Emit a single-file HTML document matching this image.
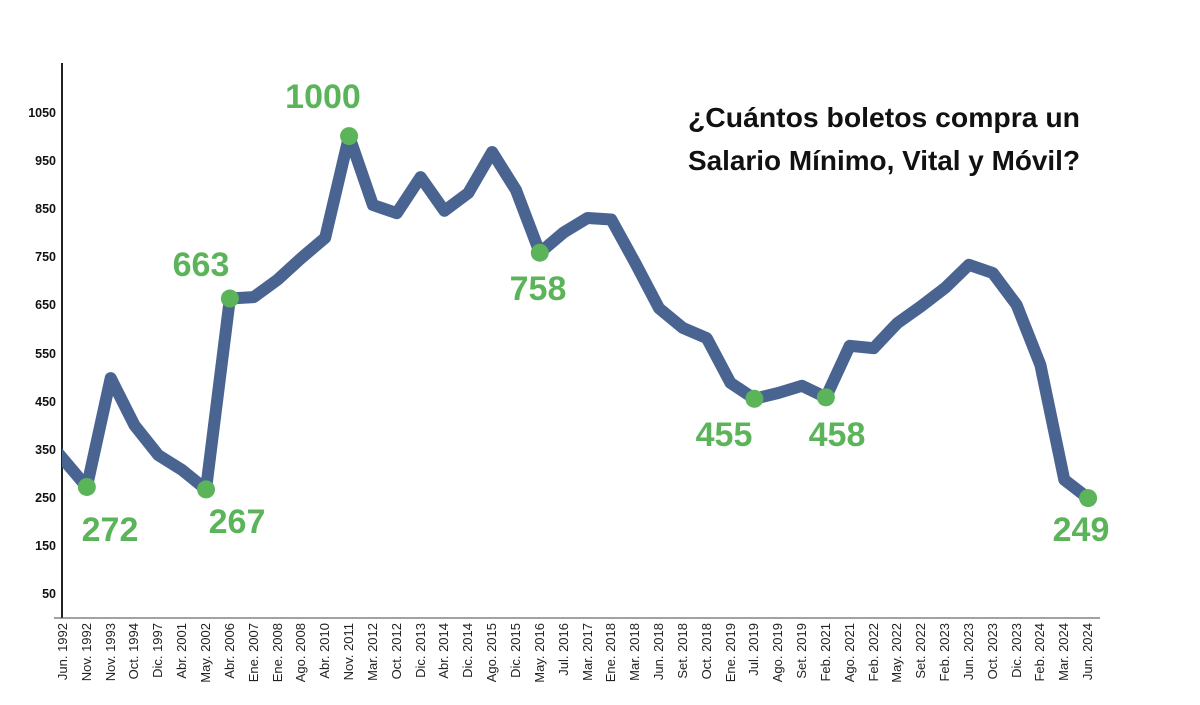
<!DOCTYPE html>
<html><head><meta charset="utf-8"><style>
html,body{margin:0;padding:0;background:#fff;}
svg{display:block;font-family:"Liberation Sans",sans-serif;}
</style></head><body>
<svg id="s" width="1200" height="705" viewBox="0 0 1200 705">
<line x1="62" y1="63" x2="62" y2="618" stroke="#222" stroke-width="2"/>
<line x1="54" y1="618" x2="1100" y2="618" stroke="#444" stroke-width="1"/>
<g font-size="12.5" font-weight="bold" text-anchor="end" fill="#111">
<text x="56" y="117">1050</text><text x="56" y="165">950</text><text x="56" y="213">850</text>
<text x="56" y="261">750</text><text x="56" y="309">650</text><text x="56" y="358">550</text>
<text x="56" y="406">450</text><text x="56" y="454">350</text><text x="56" y="502">250</text>
<text x="56" y="550">150</text><text x="56" y="598">50</text>
</g>
<clipPath id="c"><rect x="62" y="0" width="1140" height="705"/></clipPath>
<polyline id="ln" clip-path="url(#c)" fill="none" stroke="#4a6491" stroke-width="12" stroke-linejoin="round" stroke-linecap="round" points=""/>
<g id="dots" fill="#5cb45a"></g>
<g font-size="34" font-weight="bold" fill="#5cb45a" text-anchor="middle">
<text x="110" y="541">272</text><text x="237" y="533">267</text><text x="201" y="276">663</text>
<text x="323" y="108">1000</text><text x="538" y="300">758</text><text x="724" y="446">455</text>
<text x="837" y="446">458</text><text x="1081" y="541">249</text>
</g>
<g font-size="28" font-weight="bold" fill="#111" text-anchor="middle">
<text x="884" y="127" textLength="392" lengthAdjust="spacingAndGlyphs">¿Cuántos boletos compra un</text>
<text x="884" y="170" textLength="392" lengthAdjust="spacingAndGlyphs">Salario Mínimo, Vital y Móvil?</text>
</g>
<g font-size="13" fill="#222" text-anchor="end">
<text transform="translate(67,623) rotate(-90)">Jun. 1992</text>
<text transform="translate(91,623) rotate(-90)">Nov. 1992</text>
<text transform="translate(115,623) rotate(-90)">Nov. 1993</text>
<text transform="translate(138,623) rotate(-90)">Oct. 1994</text>
<text transform="translate(162,623) rotate(-90)">Dic. 1997</text>
<text transform="translate(186,623) rotate(-90)">Abr. 2001</text>
<text transform="translate(210,623) rotate(-90)">May. 2002</text>
<text transform="translate(234,623) rotate(-90)">Abr. 2006</text>
<text transform="translate(258,623) rotate(-90)">Ene. 2007</text>
<text transform="translate(282,623) rotate(-90)">Ene. 2008</text>
<text transform="translate(305,623) rotate(-90)">Ago. 2008</text>
<text transform="translate(329,623) rotate(-90)">Abr. 2010</text>
<text transform="translate(353,623) rotate(-90)">Nov. 2011</text>
<text transform="translate(377,623) rotate(-90)">Mar. 2012</text>
<text transform="translate(401,623) rotate(-90)">Oct. 2012</text>
<text transform="translate(425,623) rotate(-90)">Dic. 2013</text>
<text transform="translate(448,623) rotate(-90)">Abr. 2014</text>
<text transform="translate(472,623) rotate(-90)">Dic. 2014</text>
<text transform="translate(496,623) rotate(-90)">Ago. 2015</text>
<text transform="translate(520,623) rotate(-90)">Dic. 2015</text>
<text transform="translate(544,623) rotate(-90)">May. 2016</text>
<text transform="translate(568,623) rotate(-90)">Jul. 2016</text>
<text transform="translate(592,623) rotate(-90)">Mar. 2017</text>
<text transform="translate(615,623) rotate(-90)">Ene. 2018</text>
<text transform="translate(639,623) rotate(-90)">Mar. 2018</text>
<text transform="translate(663,623) rotate(-90)">Jun. 2018</text>
<text transform="translate(687,623) rotate(-90)">Set. 2018</text>
<text transform="translate(711,623) rotate(-90)">Oct. 2018</text>
<text transform="translate(735,623) rotate(-90)">Ene. 2019</text>
<text transform="translate(758,623) rotate(-90)">Jul. 2019</text>
<text transform="translate(782,623) rotate(-90)">Ago. 2019</text>
<text transform="translate(806,623) rotate(-90)">Set. 2019</text>
<text transform="translate(830,623) rotate(-90)">Feb. 2021</text>
<text transform="translate(854,623) rotate(-90)">Ago. 2021</text>
<text transform="translate(878,623) rotate(-90)">Feb. 2022</text>
<text transform="translate(901,623) rotate(-90)">May. 2022</text>
<text transform="translate(925,623) rotate(-90)">Set. 2022</text>
<text transform="translate(949,623) rotate(-90)">Feb. 2023</text>
<text transform="translate(973,623) rotate(-90)">Jun. 2023</text>
<text transform="translate(997,623) rotate(-90)">Oct. 2023</text>
<text transform="translate(1021,623) rotate(-90)">Dic. 2023</text>
<text transform="translate(1044,623) rotate(-90)">Feb. 2024</text>
<text transform="translate(1068,623) rotate(-90)">Mar. 2024</text>
<text transform="translate(1092,623) rotate(-90)">Jun. 2024</text>
</g>
</svg>
<script>
var v=[335,272,498,400,338,307,267,663,666,702,747,789,1000,857,840,915,845,882,967,888,758,800,830,827,737,643,602,581,488,455,467,482,458,565,560,612,647,685,733,716,650,525,287,249];
var hl=[1,6,7,12,20,29,32,43];
var pts=[];
function X(i){return 63+23.84*i;}function Y(a){return 112+(1050-a)*0.482;}
for(var i=0;i<v.length;i++){pts.push((i==0?55:X(i)).toFixed(1)+","+Y(i==0?350:v[i]).toFixed(1));}
document.getElementById('ln').setAttribute('points',pts.join(' '));
var g=document.getElementById('dots');
hl.forEach(function(i){var c=document.createElementNS('http://www.w3.org/2000/svg','circle');c.setAttribute('cx',X(i));c.setAttribute('cy',Y(v[i]));c.setAttribute('r',9);g.appendChild(c);});
</script>
</body></html>
